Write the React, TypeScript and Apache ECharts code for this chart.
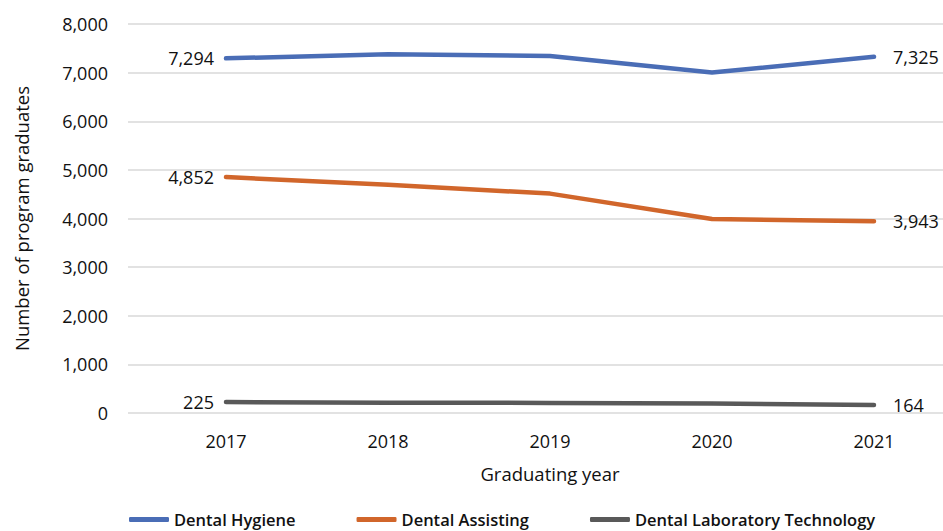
import React, { useEffect, useRef } from "react";
import * as echarts from "echarts";

const years = ["2017", "2018", "2019", "2020", "2021"];
const dentalHygiene = [7294, 7376, 7343, 7001, 7325];
const dentalAssisting = [4852, 4696, 4512, 3991, 3943];
const dentalLabTech = [225, 212, 207, 196, 164];
const seriesNames = ["Dental Hygiene", "Dental Assisting", "Dental Laboratory Technology"];
const colors = ["#4A6DB6", "#D1662B", "#595959"];

const FONT = "'Open Sans', 'Noto Sans', sans-serif";
const TEXT = "#111111";

// value labels only at the first and last year of each series
function endLabels(values: number[]) {
  const last = values.length - 1;
  return values.map((v, i) => ({
    value: v,
    label: {
      show: i === 0 || i === last,
      position: i === 0 ? "left" : "right",
      distance: i === 0 ? 11 : 18,
      formatter: (p: any) => Number(p.value).toLocaleString("en-US"),
      color: TEXT,
      fontFamily: FONT,
      fontSize: 18,
      fontWeight: 500,
    },
  }));
}

export default function App() {
  const ref = useRef<HTMLDivElement>(null);

  useEffect(() => {
    if (!ref.current) return;
    const chart = echarts.init(ref.current, undefined, { renderer: "svg" });
    const lists = [dentalHygiene, dentalAssisting, dentalLabTech];
    chart.setOption({
      animation: false,
      backgroundColor: "#ffffff",
      textStyle: { fontFamily: FONT },
      grid: [
        // background grid carrying the value axis and its gridlines
        { left: 128, width: 815, top: 24, bottom: 118 },
        // data grid; its last band runs past the visible edge
        { left: 145, width: 810, top: 24, bottom: 118 },
      ],
      legend: {
        data: seriesNames,
        left: 124,
        bottom: -2,
        icon: "roundRect",
        itemWidth: 40,
        itemHeight: 5,
        itemGap: 61,
        textStyle: { fontFamily: FONT, fontSize: 16.5, fontWeight: 600, color: TEXT },
      },
      xAxis: [
        { type: "category", gridIndex: 0, data: years, show: false },
        {
          type: "category",
          gridIndex: 1,
          data: years,
          axisLine: { show: false },
          axisTick: { show: false },
          axisLabel: { margin: 19, fontSize: 18, fontWeight: 500, color: TEXT, fontFamily: FONT },
          name: "Graduating year",
          nameLocation: "middle",
          nameGap: 51,
          nameTextStyle: { fontSize: 18.5, fontWeight: 500, color: TEXT, fontFamily: FONT },
        },
      ],
      yAxis: [
        {
          type: "value",
          gridIndex: 0,
          min: 0,
          max: 8000,
          interval: 1000,
          axisLine: { show: false },
          axisTick: { show: false },
          splitLine: { lineStyle: { color: "#D9D9D9", width: 1.5 } },
          axisLabel: {
            margin: 20,
            fontSize: 18,
            fontWeight: 500,
            color: TEXT,
            fontFamily: FONT,
            formatter: (v: number) => v.toLocaleString("en-US"),
          },
          name: "Number of program graduates",
          nameLocation: "middle",
          nameGap: 97,
          nameTextStyle: { fontSize: 18.5, fontWeight: 500, color: TEXT, fontFamily: FONT },
        },
        {
          type: "value",
          gridIndex: 1,
          min: 0,
          max: 8000,
          interval: 1000,
          show: false,
          splitLine: { show: false },
        },
      ],
      series: lists.map((vals, i) => ({
        name: seriesNames[i],
        type: "line",
        xAxisIndex: 1,
        yAxisIndex: 1,
        data: endLabels(vals),
        showSymbol: true,
        symbol: "circle",
        symbolSize: 2,
        itemStyle: { color: colors[i] },
        color: colors[i],
        lineStyle: { width: 4.5, color: colors[i], cap: "round", join: "round" },
        emphasis: { disabled: true },
      })),
    });
    return () => chart.dispose();
  }, []);

  return (
    <div style={{ position: "absolute", left: 0, top: 0, width: 943, height: 531, overflow: "hidden" }}>
      <div ref={ref} style={{ width: 960, height: 531 }} />
    </div>
  );
}
